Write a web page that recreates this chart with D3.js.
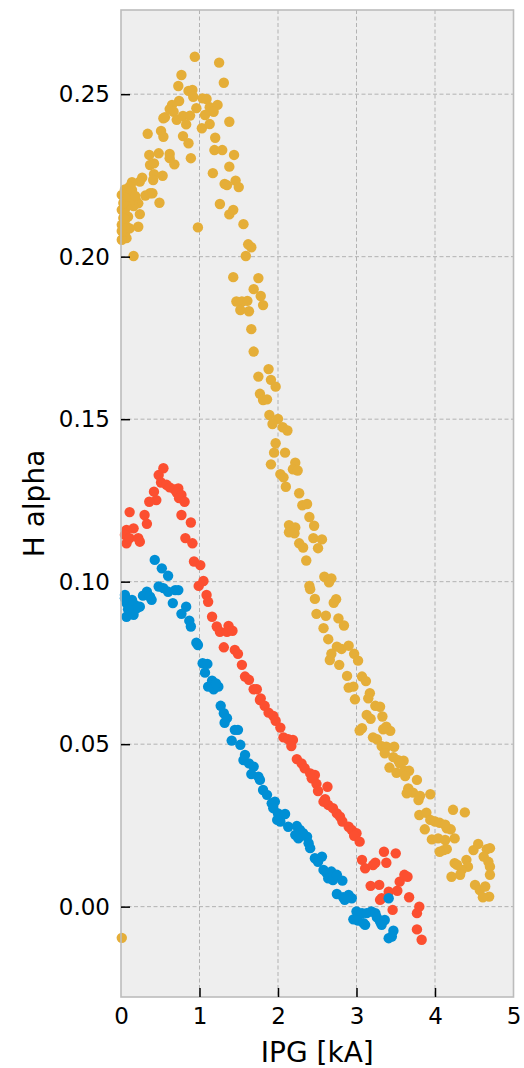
<!DOCTYPE html>
<html>
<head>
<meta charset="utf-8">
<script src="https://cdn.jsdelivr.net/npm/d3@7"></script>
<style>
  body { margin: 0; background: #fff; }
  text { font-family: "DejaVu Sans", sans-serif; fill: #000; }
</style>
</head>
<body>
<div id="wrapper"></div>
<script>
// values: [IPG kA, H alpha]
const yellowSeries = [
  [0.94,0.2615],[1.25,0.2597],[0.77,0.2559],[1.31,0.2535],[0.73,0.2525],[0.86,0.2510],[0.91,0.2513],[0.92,0.2492],
  [1.04,0.2487],[1.09,0.2485],[0.74,0.2479],[0.65,0.2467],[0.62,0.2454],[0.67,0.2446],[0.96,0.2457],[1.13,0.2460],
  [1.23,0.2467],[1.18,0.2446],[1.07,0.2436],[0.56,0.2429],[0.54,0.2426],[0.71,0.2421],[0.79,0.2433],[0.88,0.2434],
  [0.83,0.2407],[1.03,0.2395],[1.13,0.2408],[1.38,0.2415],[0.34,0.2378],[0.51,0.2387],[0.54,0.2369],[0.79,0.2371],
  [0.86,0.2349],[1.20,0.2366],[1.19,0.2328],[1.29,0.2328],[1.44,0.2313],[0.36,0.2313],[0.48,0.2318],[0.62,0.2316],
  [0.62,0.2303],[0.68,0.2284],[0.37,0.2282],[0.42,0.2287],[0.89,0.2303],[1.38,0.2277],[1.17,0.2257],[0.42,0.2254],
  [0.53,0.2249],[0.41,0.2236],[0.27,0.2243],[0.24,0.2231],[1.32,0.2224],[1.35,0.2220],[1.46,0.2234],[1.50,0.2214],
  [0.14,0.2229],[0.05,0.2207],[0.11,0.2215],[0.31,0.2188],[0.37,0.2195],[0.40,0.2195],[0.19,0.2174],[0.22,0.2164],
  [0.16,0.2156],[0.49,0.2166],[1.26,0.2162],[1.38,0.2130],[1.43,0.2144],[0.24,0.2131],[0.22,0.2092],[0.98,0.2090],
  [1.56,0.2100],[1.62,0.2038],[1.66,0.2029],[1.59,0.2002],[0.16,0.2002],
  [0.05,0.2195],[0.05,0.2174],[0.11,0.2169],[0.07,0.2154],[0.05,0.2133],[0.09,0.2123],[0.05,0.2113],[0.07,0.2092],
  [0.05,0.2072],[0.07,0.2057],[0.11,0.2087],[0.01,0.2190],[0.01,0.2144],[0.01,0.2098],[0.01,0.2052],[0.03,0.2165],
  [0.03,0.2119],[0.01,0.2079],[0.09,0.2184],[0.14,0.2205],[0.18,0.2187],
  [1.43,0.1937],[1.75,0.1934],[1.69,0.1900],[1.78,0.1879],[1.47,0.1862],[1.54,0.1862],[1.61,0.1864],[1.52,0.1836],
  [1.63,0.1832],[1.81,0.1851],[1.66,0.1777],[1.69,0.1708],[1.88,0.1654],[1.75,0.1631],[1.91,0.1621],[1.97,0.1600],
  [1.77,0.1578],[1.81,0.1559],[1.86,0.1561],[1.89,0.1513],[2.00,0.1501],[1.93,0.1485],[2.06,0.1475],[2.12,0.1465],
  [1.97,0.1426],[1.95,0.1397],[2.09,0.1397],[1.91,0.1361],[2.22,0.1366],[2.19,0.1346],[2.25,0.1342],[2.03,0.1331],
  [2.07,0.1321],[2.10,0.1292],[2.27,0.1272],[2.31,0.1235],[2.37,0.1239],[2.40,0.1199],[2.46,0.1172],[2.14,0.1174],
  [2.22,0.1167],[2.14,0.1152],[2.21,0.1149],[2.45,0.1134],[2.56,0.1130],[2.51,0.1103],[2.27,0.1118],[2.32,0.1105],
  [2.36,0.1065],[2.59,0.1015],[2.68,0.1010],[2.65,0.0998],[2.40,0.0987],[2.41,0.0977],[2.47,0.0947],[2.74,0.0946],
  [2.71,0.0935],[2.49,0.0901],[2.61,0.0895],[2.77,0.0887],[2.84,0.0865],[2.58,0.0857],[2.64,0.0823],[2.75,0.0800],
  [2.81,0.0793],[2.90,0.0803],[2.68,0.0778],[2.66,0.0759],[2.97,0.0778],[3.02,0.0757],[2.78,0.0744],[2.88,0.0710],
  [2.90,0.0674],[2.96,0.0677],[2.98,0.0638],[3.07,0.0708],[3.12,0.0694],[3.17,0.0657],[3.15,0.0641],[3.13,0.0590],
  [3.18,0.0578],[3.24,0.0618],[3.30,0.0615],[3.33,0.0585],[3.07,0.0549],[3.04,0.0542],[3.38,0.0554],[3.43,0.0541],
  [3.21,0.0521],[3.26,0.0515],[3.32,0.0494],[3.38,0.0492],[3.48,0.0492],[3.36,0.0472],[3.47,0.0460],[3.53,0.0451],
  [3.60,0.0449],[3.42,0.0428],[3.51,0.0412],[3.61,0.0418],[3.67,0.0418],[3.62,0.0402],[3.77,0.0390],[3.66,0.0364],
  [3.72,0.0351],[3.81,0.0341],[3.94,0.0346],[3.64,0.0349],[3.79,0.0328],[3.55,0.0441],[3.34,0.0546],
  [3.80,0.0282],[3.89,0.0289],[3.94,0.0267],[3.87,0.0238],[4.23,0.0298],[4.38,0.0290],[4.00,0.0262],[4.06,0.0258],
  [4.15,0.0241],[4.20,0.0238],[4.25,0.0210],[3.96,0.0207],[4.04,0.0210],[4.13,0.0205],[4.11,0.0174],[4.15,0.0177],
  [4.49,0.0174],[4.55,0.0193],[4.66,0.0177],[4.70,0.0180],[4.62,0.0154],[4.68,0.0138],[4.70,0.0123],[4.40,0.0144],
  [4.42,0.0123],[4.34,0.0113],[4.25,0.0134],[4.32,0.0098],[4.21,0.0092],[4.70,0.0098],[4.51,0.0067],[4.57,0.0051],
  [4.64,0.0062],[4.69,0.0031],[4.61,0.0029],[4.13,0.0252],[4.06,0.0169],[4.28,0.0129],
  [0.01,-0.0096]
];

const redSeries = [
  [0.54,0.1349],[0.48,0.1328],[0.51,0.1305],[0.58,0.1298],[0.62,0.1290],[0.68,0.1284],[0.73,0.1287],[0.71,0.1274],
  [0.77,0.1267],[0.74,0.1257],[0.81,0.1246],[0.42,0.1277],[0.45,0.1251],[0.36,0.1246],[0.11,0.1214],[0.30,0.1205],
  [0.33,0.1178],[0.77,0.1205],[0.89,0.1182],[0.16,0.1164],[0.07,0.1159],[0.05,0.1144],[0.07,0.1118],[0.11,0.1134],
  [0.22,0.1134],[0.24,0.1123],[0.82,0.1134],[0.91,0.1118],[0.93,0.1062],[1.01,0.1051],[1.05,0.1002],[0.99,0.0987],
  [1.09,0.0959],[1.11,0.0938],[1.16,0.0892],[1.22,0.0862],[1.26,0.0846],[1.37,0.0864],[1.35,0.0846],[1.42,0.0849],
  [1.31,0.0798],[1.45,0.0790],[1.49,0.0778],[1.54,0.0744],[1.58,0.0708],[1.63,0.0698],[1.69,0.0669],[1.73,0.0669],
  [1.78,0.0641],[1.77,0.0636],[1.83,0.0618],[1.88,0.0597],[1.94,0.0587],[1.97,0.0572],[2.03,0.0551],[2.07,0.0521],
  [2.13,0.0515],[2.19,0.0513],[2.17,0.0494],[2.24,0.0454],[2.30,0.0441],[2.34,0.0426],[2.41,0.0410],[2.47,0.0405],
  [2.43,0.0395],[2.49,0.0378],[2.63,0.0369],[2.51,0.0356],[2.60,0.0331],[2.64,0.0313],[2.58,0.0323],[2.70,0.0303],
  [2.75,0.0287],[2.79,0.0277],[2.82,0.0262],[2.90,0.0246],[2.94,0.0236],[3.00,0.0226],[2.97,0.0218],[3.04,0.0200],
  [3.07,0.0144],[3.11,0.0118],[3.21,0.0128],[3.24,0.0135],[3.35,0.0169],[3.50,0.0164],[3.38,0.0135],[3.18,0.0064],
  [3.29,0.0067],[3.32,0.0026],[3.41,0.0046],[3.52,0.0049],[3.55,0.0077],[3.61,0.0098],[3.65,0.0092],[3.67,0.0029],
  [3.46,-0.0010],[3.77,-0.0020],[3.80,0.0000],[3.77,-0.0070],[3.83,-0.0102],[3.30,0.0021]
];

const blueSeries = [
  [0.43,0.1067],[0.52,0.1041],[0.60,0.1018],[0.48,0.0985],[0.54,0.0980],[0.60,0.0969],[0.69,0.0974],[0.73,0.0974],
  [0.33,0.0969],[0.28,0.0957],[0.37,0.0954],[0.39,0.0944],[0.05,0.0959],[0.07,0.0934],[0.14,0.0944],[0.18,0.0928],
  [0.24,0.0923],[0.07,0.0892],[0.16,0.0898],[0.20,0.0918],[0.05,0.0949],[0.09,0.0915],[0.66,0.0934],[0.83,0.0923],
  [0.77,0.0901],[0.87,0.0880],[0.89,0.0862],[0.96,0.0812],[0.98,0.0805],[1.04,0.0749],[1.10,0.0747],[1.07,0.0720],
  [1.16,0.0695],[1.11,0.0677],[1.18,0.0669],[1.24,0.0677],[1.21,0.0687],[1.27,0.0618],[1.31,0.0595],[1.35,0.0580],
  [1.32,0.0566],[1.45,0.0544],[1.49,0.0544],[1.41,0.0511],[1.52,0.0498],[1.58,0.0467],[1.56,0.0451],[1.63,0.0441],
  [1.69,0.0431],[1.66,0.0408],[1.75,0.0400],[1.77,0.0390],[1.81,0.0359],[1.86,0.0344],[1.92,0.0318],[1.96,0.0323],
  [1.94,0.0303],[2.00,0.0287],[2.09,0.0285],[2.03,0.0262],[1.99,0.0267],[2.13,0.0246],[2.24,0.0248],[2.28,0.0236],
  [2.32,0.0226],[2.22,0.0221],[2.26,0.0210],[2.37,0.0215],[2.39,0.0195],[2.41,0.0180],[2.47,0.0149],[2.51,0.0138],
  [2.56,0.0154],[2.58,0.0113],[2.62,0.0103],[2.68,0.0108],[2.64,0.0087],[2.70,0.0082],[2.75,0.0098],[2.82,0.0080],
  [2.75,0.0039],[2.83,0.0029],[2.90,0.0036],[2.94,0.0026],[3.00,-0.0015],[3.07,-0.0020],[2.96,-0.0039],[3.02,-0.0043],
  [3.11,-0.0056],[3.13,-0.0020],[3.19,-0.0015],[3.24,-0.0020],[3.26,-0.0033],[3.30,-0.0046],[3.36,-0.0041],[3.32,-0.0056],
  [3.41,0.0026],[3.47,-0.0074],[3.45,-0.0092],[3.41,-0.0097],[2.85,0.0021],[3.09,-0.0051]
];

const xTicks = [0, 1, 2, 3, 4, 5];
const yTicks = [0.00, 0.05, 0.10, 0.15, 0.20, 0.25];

const dimension = {
    width: 524,
    height: 1068,
    margin: { top: 10, left: 121, bottom: 71, right: 10.5 }
};
dimension.boundedWidth = dimension.width - dimension.margin.left - dimension.margin.right;
dimension.boundedHeight = dimension.height - dimension.margin.top - dimension.margin.bottom;

const svg = d3.select("#wrapper").append("svg")
    .attr("width", dimension.width)
    .attr("height", dimension.height);

const bounded = svg.append("g")
    .attr("transform", `translate(${dimension.margin.left},${dimension.margin.top})`);

const xScaler = d3.scaleLinear()
    .domain([0, 5])
    .range([0, dimension.boundedWidth]);
const yScaler = d3.scaleLinear()
    .domain([-0.0278, 0.2759])
    .range([dimension.boundedHeight, 0]);

// background
bounded.append("rect")
    .attr("width", dimension.boundedWidth)
    .attr("height", dimension.boundedHeight)
    .attr("fill", "#eeeeee");

// dashed grid
bounded.append("g").selectAll("line")
    .data(xTicks.slice(1, -1))
    .join("line")
    .attr("x1", d => xScaler(d)).attr("x2", d => xScaler(d))
    .attr("y1", 0).attr("y2", dimension.boundedHeight)
    .attr("stroke", "#b2b2b2").attr("stroke-width", 1)
    .attr("stroke-dasharray", "4,2.5");
bounded.append("g").selectAll("line")
    .data(yTicks)
    .join("line")
    .attr("y1", d => yScaler(d)).attr("y2", d => yScaler(d))
    .attr("x1", 0).attr("x2", dimension.boundedWidth)
    .attr("stroke", "#b2b2b2").attr("stroke-width", 1)
    .attr("stroke-dasharray", "4,2.5");

// points
const drawSeries = (data, color) => {
    bounded.append("g").selectAll("circle")
        .data(data)
        .join("circle")
        .attr("cx", d => xScaler(d[0]))
        .attr("cy", d => yScaler(d[1]))
        .attr("r", 5.2)
        .attr("fill", color);
};
drawSeries(yellowSeries, "#e5ae38");
drawSeries(redSeries, "#fc4f30");
drawSeries(blueSeries, "#008fd5");

// frame
bounded.append("rect")
    .attr("width", dimension.boundedWidth)
    .attr("height", dimension.boundedHeight)
    .attr("fill", "none")
    .attr("stroke", "#bcbcbc")
    .attr("stroke-width", 1.6);

// axes, ticks pointing inward
const xAxis = d3.axisBottom(xScaler)
    .tickValues(xTicks)
    .tickFormat(d3.format("d"))
    .tickSizeInner(-9).tickSizeOuter(0).tickPadding(11);
const yAxis = d3.axisLeft(yScaler)
    .tickValues(yTicks)
    .tickFormat(d3.format(".2f"))
    .tickSizeInner(-9).tickSizeOuter(0).tickPadding(11);

const gx = bounded.append("g")
    .attr("transform", `translate(0,${dimension.boundedHeight})`)
    .call(xAxis);
const gy = bounded.append("g").call(yAxis);

[gx, gy].forEach(g => {
    g.select(".domain").remove();
    g.selectAll(".tick line").attr("stroke", "#000").attr("stroke-width", 1.5);
    g.selectAll(".tick text")
        .style("font-family", "DejaVu Sans, sans-serif")
        .style("font-size", "23px")
        .attr("fill", "#000");
});
gx.selectAll(".tick").filter(d => d === 0 || d === 5).select("line").remove();

svg.append("text")
    .attr("x", dimension.margin.left + dimension.boundedWidth / 2)
    .attr("y", 1062)
    .style("text-anchor", "middle")
    .style("font-size", "28px")
    .text("IPG [kA]");

svg.append("text")
    .attr("transform", "rotate(-90)")
    .attr("x", -(dimension.margin.top + dimension.boundedHeight / 2))
    .attr("y", 44)
    .style("text-anchor", "middle")
    .style("font-size", "28px")
    .text("H alpha");
</script>
</body>
</html>
